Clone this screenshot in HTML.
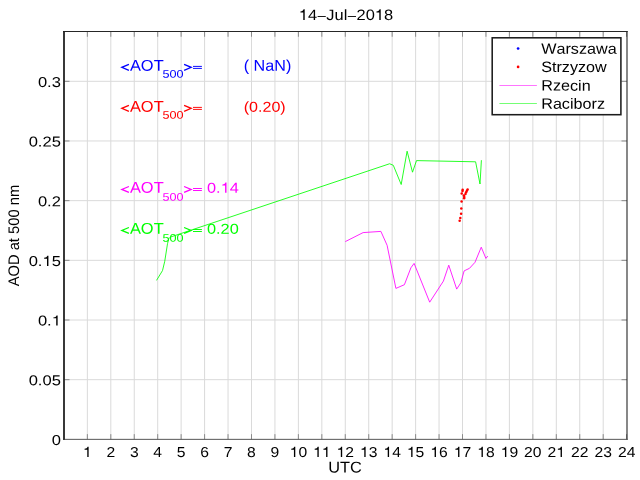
<!DOCTYPE html>
<html><head><meta charset="utf-8"><title>14-Jul-2018</title>
<style>
html,body{margin:0;padding:0;background:#fff;}
body{width:640px;height:480px;overflow:hidden;}
svg{display:block;will-change:transform;}
text{font-family:"Liberation Sans",sans-serif;font-kerning:none;text-rendering:geometricPrecision;}
</style></head><body>
<svg width="640" height="480" viewBox="0 0 640 480">
<rect x="0" y="0" width="640" height="480" fill="#ffffff"/>
<g stroke="#dadada" stroke-width="1" fill="none"><line x1="87.36" y1="31.55" x2="87.36" y2="439.35"/><line x1="110.80" y1="31.55" x2="110.80" y2="439.35"/><line x1="134.25" y1="31.55" x2="134.25" y2="439.35"/><line x1="157.70" y1="31.55" x2="157.70" y2="439.35"/><line x1="181.14" y1="31.55" x2="181.14" y2="439.35"/><line x1="204.59" y1="31.55" x2="204.59" y2="439.35"/><line x1="228.04" y1="31.55" x2="228.04" y2="439.35"/><line x1="251.49" y1="31.55" x2="251.49" y2="439.35"/><line x1="274.93" y1="31.55" x2="274.93" y2="439.35"/><line x1="298.38" y1="31.55" x2="298.38" y2="439.35"/><line x1="321.83" y1="31.55" x2="321.83" y2="439.35"/><line x1="345.27" y1="31.55" x2="345.27" y2="439.35"/><line x1="368.72" y1="31.55" x2="368.72" y2="439.35"/><line x1="392.17" y1="31.55" x2="392.17" y2="439.35"/><line x1="415.62" y1="31.55" x2="415.62" y2="439.35"/><line x1="439.06" y1="31.55" x2="439.06" y2="439.35"/><line x1="462.51" y1="31.55" x2="462.51" y2="439.35"/><line x1="485.96" y1="31.55" x2="485.96" y2="439.35"/><line x1="509.40" y1="31.55" x2="509.40" y2="439.35"/><line x1="532.85" y1="31.55" x2="532.85" y2="439.35"/><line x1="556.30" y1="31.55" x2="556.30" y2="439.35"/><line x1="579.74" y1="31.55" x2="579.74" y2="439.35"/><line x1="603.19" y1="31.55" x2="603.19" y2="439.35"/><line x1="64.0" y1="379.68" x2="627.0" y2="379.68"/><line x1="64.0" y1="320.00" x2="627.0" y2="320.00"/><line x1="64.0" y1="260.33" x2="627.0" y2="260.33"/><line x1="64.0" y1="200.65" x2="627.0" y2="200.65"/><line x1="64.0" y1="140.98" x2="627.0" y2="140.98"/><line x1="64.0" y1="81.30" x2="627.0" y2="81.30"/></g>
<g stroke="#8a8a8a" stroke-width="1" fill="none"><line x1="87.36" y1="439.35" x2="87.36" y2="434.15000000000003"/><line x1="87.36" y1="31.55" x2="87.36" y2="36.75"/><line x1="110.80" y1="439.35" x2="110.80" y2="434.15000000000003"/><line x1="110.80" y1="31.55" x2="110.80" y2="36.75"/><line x1="134.25" y1="439.35" x2="134.25" y2="434.15000000000003"/><line x1="134.25" y1="31.55" x2="134.25" y2="36.75"/><line x1="157.70" y1="439.35" x2="157.70" y2="434.15000000000003"/><line x1="157.70" y1="31.55" x2="157.70" y2="36.75"/><line x1="181.14" y1="439.35" x2="181.14" y2="434.15000000000003"/><line x1="181.14" y1="31.55" x2="181.14" y2="36.75"/><line x1="204.59" y1="439.35" x2="204.59" y2="434.15000000000003"/><line x1="204.59" y1="31.55" x2="204.59" y2="36.75"/><line x1="228.04" y1="439.35" x2="228.04" y2="434.15000000000003"/><line x1="228.04" y1="31.55" x2="228.04" y2="36.75"/><line x1="251.49" y1="439.35" x2="251.49" y2="434.15000000000003"/><line x1="251.49" y1="31.55" x2="251.49" y2="36.75"/><line x1="274.93" y1="439.35" x2="274.93" y2="434.15000000000003"/><line x1="274.93" y1="31.55" x2="274.93" y2="36.75"/><line x1="298.38" y1="439.35" x2="298.38" y2="434.15000000000003"/><line x1="298.38" y1="31.55" x2="298.38" y2="36.75"/><line x1="321.83" y1="439.35" x2="321.83" y2="434.15000000000003"/><line x1="321.83" y1="31.55" x2="321.83" y2="36.75"/><line x1="345.27" y1="439.35" x2="345.27" y2="434.15000000000003"/><line x1="345.27" y1="31.55" x2="345.27" y2="36.75"/><line x1="368.72" y1="439.35" x2="368.72" y2="434.15000000000003"/><line x1="368.72" y1="31.55" x2="368.72" y2="36.75"/><line x1="392.17" y1="439.35" x2="392.17" y2="434.15000000000003"/><line x1="392.17" y1="31.55" x2="392.17" y2="36.75"/><line x1="415.62" y1="439.35" x2="415.62" y2="434.15000000000003"/><line x1="415.62" y1="31.55" x2="415.62" y2="36.75"/><line x1="439.06" y1="439.35" x2="439.06" y2="434.15000000000003"/><line x1="439.06" y1="31.55" x2="439.06" y2="36.75"/><line x1="462.51" y1="439.35" x2="462.51" y2="434.15000000000003"/><line x1="462.51" y1="31.55" x2="462.51" y2="36.75"/><line x1="485.96" y1="439.35" x2="485.96" y2="434.15000000000003"/><line x1="485.96" y1="31.55" x2="485.96" y2="36.75"/><line x1="509.40" y1="439.35" x2="509.40" y2="434.15000000000003"/><line x1="509.40" y1="31.55" x2="509.40" y2="36.75"/><line x1="532.85" y1="439.35" x2="532.85" y2="434.15000000000003"/><line x1="532.85" y1="31.55" x2="532.85" y2="36.75"/><line x1="556.30" y1="439.35" x2="556.30" y2="434.15000000000003"/><line x1="556.30" y1="31.55" x2="556.30" y2="36.75"/><line x1="579.74" y1="439.35" x2="579.74" y2="434.15000000000003"/><line x1="579.74" y1="31.55" x2="579.74" y2="36.75"/><line x1="603.19" y1="439.35" x2="603.19" y2="434.15000000000003"/><line x1="603.19" y1="31.55" x2="603.19" y2="36.75"/><line x1="626.64" y1="439.35" x2="626.64" y2="434.15000000000003"/><line x1="626.64" y1="31.55" x2="626.64" y2="36.75"/><line x1="64.0" y1="379.68" x2="69.5" y2="379.68"/><line x1="627.0" y1="379.68" x2="621.5" y2="379.68"/><line x1="64.0" y1="320.00" x2="69.5" y2="320.00"/><line x1="627.0" y1="320.00" x2="621.5" y2="320.00"/><line x1="64.0" y1="260.33" x2="69.5" y2="260.33"/><line x1="627.0" y1="260.33" x2="621.5" y2="260.33"/><line x1="64.0" y1="200.65" x2="69.5" y2="200.65"/><line x1="627.0" y1="200.65" x2="621.5" y2="200.65"/><line x1="64.0" y1="140.98" x2="69.5" y2="140.98"/><line x1="627.0" y1="140.98" x2="621.5" y2="140.98"/><line x1="64.0" y1="81.30" x2="69.5" y2="81.30"/><line x1="627.0" y1="81.30" x2="621.5" y2="81.30"/></g>
<polyline fill="none" stroke="#00ff00" stroke-width="0.85" stroke-linejoin="miter" stroke-miterlimit="10" points="156.50,280.40 162.50,270.60 164.75,261.25 167.50,243.75 168.75,238.75 170.50,237.00 389.60,163.75 393.30,165.30 401.20,184.50 407.10,151.20 412.50,172.20 416.50,160.60 475.60,161.80 480.00,184.00 481.40,160.20"/>
<polyline fill="none" stroke="#ff00ff" stroke-width="0.85" stroke-linejoin="miter" stroke-miterlimit="10" points="345.30,241.60 363.10,232.60 380.90,231.40 387.10,245.30 395.90,288.40 404.40,284.70 410.90,267.80 414.10,263.40 429.70,302.20 443.40,281.10 448.75,265.20 456.70,289.10 460.90,282.70 464.10,270.90 469.50,268.30 475.00,262.30 481.25,247.20 485.90,258.40 487.80,256.10"/>
<g fill="#ff0000"><circle cx="459.65" cy="220.80" r="1.25"/><circle cx="460.30" cy="218.00" r="1.25"/><circle cx="461.10" cy="213.70" r="1.25"/><circle cx="461.30" cy="208.40" r="1.25"/><circle cx="461.60" cy="201.60" r="1.25"/><circle cx="464.10" cy="198.30" r="1.25"/><circle cx="464.25" cy="196.90" r="1.25"/><circle cx="463.90" cy="195.50" r="1.25"/><circle cx="465.50" cy="194.10" r="1.25"/><circle cx="466.10" cy="192.20" r="1.25"/><circle cx="466.90" cy="190.80" r="1.25"/><circle cx="467.60" cy="189.40" r="1.25"/><circle cx="462.65" cy="189.80" r="1.25"/><circle cx="462.50" cy="191.00" r="1.25"/><circle cx="461.70" cy="193.60" r="1.25"/></g>
<line x1="627.0" y1="31.55" x2="627.0" y2="439.85" stroke="#2a2a2a" stroke-width="1.12"/>
<line x1="63.0" y1="439.35" x2="627.8" y2="439.35" stroke="#565656" stroke-width="1"/>
<line x1="63.0" y1="31.55" x2="627.8" y2="31.55" stroke="#262626" stroke-width="1.1"/>
<line x1="64.0" y1="30.95" x2="64.0" y2="439.85" stroke="#222" stroke-width="1.8"/>
<path d="M273 0H359V-709H292C272 -628 215 -574 101 -565V-503H273Z" fill="#000" transform="translate(298.78,20.00) scale(0.01647,0.01500)"/><text transform="translate(307.94,20.00) matrix(1.0980,0.001,0,1.0000,0,0)" font-size="15.0" fill="#000">4</text><rect x="317.60" y="16.07" width="8.17" height="0.90" fill="#000"/><text transform="translate(326.26,20.00) matrix(1.0980,0.001,0,1.0000,0,0)" font-size="15.0" fill="#000">Jul</text><rect x="347.81" y="16.07" width="8.17" height="0.90" fill="#000"/><text transform="translate(356.48,20.00) matrix(1.0980,0.001,0,1.0000,0,0)" font-size="15.0" fill="#000">20</text><path d="M273 0H359V-709H292C272 -628 215 -574 101 -565V-503H273Z" fill="#000" transform="translate(374.80,20.00) scale(0.01647,0.01500)"/><text transform="translate(383.96,20.00) matrix(1.0980,0.001,0,1.0000,0,0)" font-size="15.0" fill="#000">8</text>
<path d="M273 0H359V-709H292C272 -628 215 -574 101 -565V-503H273Z" fill="#000" transform="translate(82.99,456.90) scale(0.01570,0.01440)"/>
<text transform="translate(106.44,456.90) matrix(1.0900,0.001,0,1.0000,0,0)" font-size="14.4" fill="#000">2</text>
<text transform="translate(129.89,456.90) matrix(1.0900,0.001,0,1.0000,0,0)" font-size="14.4" fill="#000">3</text>
<text transform="translate(153.33,456.90) matrix(1.0900,0.001,0,1.0000,0,0)" font-size="14.4" fill="#000">4</text>
<text transform="translate(176.78,456.90) matrix(1.0900,0.001,0,1.0000,0,0)" font-size="14.4" fill="#000">5</text>
<text transform="translate(200.23,456.90) matrix(1.0900,0.001,0,1.0000,0,0)" font-size="14.4" fill="#000">6</text>
<text transform="translate(223.67,456.90) matrix(1.0900,0.001,0,1.0000,0,0)" font-size="14.4" fill="#000">7</text>
<text transform="translate(247.12,456.90) matrix(1.0900,0.001,0,1.0000,0,0)" font-size="14.4" fill="#000">8</text>
<text transform="translate(270.57,456.90) matrix(1.0900,0.001,0,1.0000,0,0)" font-size="14.4" fill="#000">9</text>
<path d="M273 0H359V-709H292C272 -628 215 -574 101 -565V-503H273Z" fill="#000" transform="translate(289.65,456.90) scale(0.01570,0.01440)"/><text transform="translate(298.38,456.90) matrix(1.0900,0.001,0,1.0000,0,0)" font-size="14.4" fill="#000">0</text>
<path d="M273 0H359V-709H292C272 -628 215 -574 101 -565V-503H273Z" fill="#000" transform="translate(313.10,456.90) scale(0.01570,0.01440)"/><path d="M273 0H359V-709H292C272 -628 215 -574 101 -565V-503H273Z" fill="#000" transform="translate(321.83,456.90) scale(0.01570,0.01440)"/>
<path d="M273 0H359V-709H292C272 -628 215 -574 101 -565V-503H273Z" fill="#000" transform="translate(336.54,456.90) scale(0.01570,0.01440)"/><text transform="translate(345.27,456.90) matrix(1.0900,0.001,0,1.0000,0,0)" font-size="14.4" fill="#000">2</text>
<path d="M273 0H359V-709H292C272 -628 215 -574 101 -565V-503H273Z" fill="#000" transform="translate(359.99,456.90) scale(0.01570,0.01440)"/><text transform="translate(368.72,456.90) matrix(1.0900,0.001,0,1.0000,0,0)" font-size="14.4" fill="#000">3</text>
<path d="M273 0H359V-709H292C272 -628 215 -574 101 -565V-503H273Z" fill="#000" transform="translate(383.44,456.90) scale(0.01570,0.01440)"/><text transform="translate(392.17,456.90) matrix(1.0900,0.001,0,1.0000,0,0)" font-size="14.4" fill="#000">4</text>
<path d="M273 0H359V-709H292C272 -628 215 -574 101 -565V-503H273Z" fill="#000" transform="translate(406.89,456.90) scale(0.01570,0.01440)"/><text transform="translate(415.62,456.90) matrix(1.0900,0.001,0,1.0000,0,0)" font-size="14.4" fill="#000">5</text>
<path d="M273 0H359V-709H292C272 -628 215 -574 101 -565V-503H273Z" fill="#000" transform="translate(430.33,456.90) scale(0.01570,0.01440)"/><text transform="translate(439.06,456.90) matrix(1.0900,0.001,0,1.0000,0,0)" font-size="14.4" fill="#000">6</text>
<path d="M273 0H359V-709H292C272 -628 215 -574 101 -565V-503H273Z" fill="#000" transform="translate(453.78,456.90) scale(0.01570,0.01440)"/><text transform="translate(462.51,456.90) matrix(1.0900,0.001,0,1.0000,0,0)" font-size="14.4" fill="#000">7</text>
<path d="M273 0H359V-709H292C272 -628 215 -574 101 -565V-503H273Z" fill="#000" transform="translate(477.23,456.90) scale(0.01570,0.01440)"/><text transform="translate(485.96,456.90) matrix(1.0900,0.001,0,1.0000,0,0)" font-size="14.4" fill="#000">8</text>
<path d="M273 0H359V-709H292C272 -628 215 -574 101 -565V-503H273Z" fill="#000" transform="translate(500.67,456.90) scale(0.01570,0.01440)"/><text transform="translate(509.40,456.90) matrix(1.0900,0.001,0,1.0000,0,0)" font-size="14.4" fill="#000">9</text>
<text transform="translate(524.12,456.90) matrix(1.0900,0.001,0,1.0000,0,0)" font-size="14.4" fill="#000">20</text>
<text transform="translate(547.57,456.90) matrix(1.0900,0.001,0,1.0000,0,0)" font-size="14.4" fill="#000">2</text><path d="M273 0H359V-709H292C272 -628 215 -574 101 -565V-503H273Z" fill="#000" transform="translate(556.30,456.90) scale(0.01570,0.01440)"/>
<text transform="translate(571.01,456.90) matrix(1.0900,0.001,0,1.0000,0,0)" font-size="14.4" fill="#000">22</text>
<text transform="translate(594.46,456.90) matrix(1.0900,0.001,0,1.0000,0,0)" font-size="14.4" fill="#000">23</text>
<text transform="translate(617.91,456.90) matrix(1.0900,0.001,0,1.0000,0,0)" font-size="14.4" fill="#000">24</text>
<text transform="translate(328.20,472.50) matrix(1.0900,0.001,0,1.0370,0,0)" font-size="15.0" fill="#000">UTC</text>
<text transform="translate(51.69,444.95) matrix(1.1500,0.001,0,1.0000,0,0)" font-size="14.4" fill="#000">0</text>
<text transform="translate(28.67,385.28) matrix(1.1500,0.001,0,1.0000,0,0)" font-size="14.4" fill="#000">0.05</text>
<text transform="translate(37.88,325.60) matrix(1.1500,0.001,0,1.0000,0,0)" font-size="14.4" fill="#000">0.</text><path d="M273 0H359V-709H292C272 -628 215 -574 101 -565V-503H273Z" fill="#000" transform="translate(51.69,325.60) scale(0.01656,0.01440)"/>
<text transform="translate(28.67,265.93) matrix(1.1500,0.001,0,1.0000,0,0)" font-size="14.4" fill="#000">0.</text><path d="M273 0H359V-709H292C272 -628 215 -574 101 -565V-503H273Z" fill="#000" transform="translate(42.48,265.93) scale(0.01656,0.01440)"/><text transform="translate(51.69,265.93) matrix(1.1500,0.001,0,1.0000,0,0)" font-size="14.4" fill="#000">5</text>
<text transform="translate(37.88,206.25) matrix(1.1500,0.001,0,1.0000,0,0)" font-size="14.4" fill="#000">0.2</text>
<text transform="translate(28.67,146.58) matrix(1.1500,0.001,0,1.0000,0,0)" font-size="14.4" fill="#000">0.25</text>
<text transform="translate(37.88,86.90) matrix(1.1500,0.001,0,1.0000,0,0)" font-size="14.4" fill="#000">0.3</text>
<text transform="translate(19.2,235.6) rotate(-90.02) scale(1.003,1.04)" font-size="14.7" text-anchor="middle" fill="#000">AOD at 500 nm</text>
<g stroke="#0000ff" stroke-width="1.25" fill="none" stroke-linejoin="miter"><polyline points="128.90,64.40 121.80,67.35 128.90,70.30"/><polyline points="184.10,64.40 191.20,67.35 184.10,70.30"/></g><g stroke="#0000ff" stroke-width="0.95" fill="none"><line x1="193.00" y1="66.40" x2="201.90" y2="66.40"/><line x1="193.00" y1="68.40" x2="201.90" y2="68.40"/></g>
<text transform="translate(129.90,70.70) matrix(1.0950,0.001,0,1.0370,0,0)" font-size="15.0" fill="#0000ff">AOT</text>
<text transform="translate(162.50,77.70) matrix(1.1400,0.001,0,1.0000,0,0)" font-size="11.09" fill="#0000ff">500</text>
<text transform="translate(243.70,70.70) matrix(1.0770,0.001,0,1.0370,0,0)" font-size="15.0" fill="#0000ff">( NaN)</text>
<g stroke="#ff0000" stroke-width="1.25" fill="none" stroke-linejoin="miter"><polyline points="128.90,105.40 121.80,108.35 128.90,111.30"/><polyline points="184.10,105.40 191.20,108.35 184.10,111.30"/></g><g stroke="#ff0000" stroke-width="0.95" fill="none"><line x1="193.00" y1="107.40" x2="201.90" y2="107.40"/><line x1="193.00" y1="109.40" x2="201.90" y2="109.40"/></g>
<text transform="translate(129.90,111.70) matrix(1.0950,0.001,0,1.0370,0,0)" font-size="15.0" fill="#ff0000">AOT</text>
<text transform="translate(162.50,118.70) matrix(1.1400,0.001,0,1.0000,0,0)" font-size="11.09" fill="#ff0000">500</text>
<text transform="translate(243.70,111.70) matrix(1.1180,0.001,0,1.0000,0,0)" font-size="14.4" fill="#ff0000">(0.20)</text>
<g stroke="#ff00ff" stroke-width="1.25" fill="none" stroke-linejoin="miter"><polyline points="128.90,186.50 121.80,189.45 128.90,192.40"/><polyline points="184.10,186.50 191.20,189.45 184.10,192.40"/></g><g stroke="#ff00ff" stroke-width="0.95" fill="none"><line x1="193.00" y1="188.50" x2="201.90" y2="188.50"/><line x1="193.00" y1="190.50" x2="201.90" y2="190.50"/></g>
<text transform="translate(129.90,192.80) matrix(1.0950,0.001,0,1.0370,0,0)" font-size="15.0" fill="#ff00ff">AOT</text>
<text transform="translate(162.50,200.70) matrix(1.1400,0.001,0,1.0000,0,0)" font-size="11.09" fill="#ff00ff">500</text>
<text transform="translate(207.00,192.80) matrix(1.1350,0.001,0,1.0000,0,0)" font-size="14.4" fill="#ff00ff">0.</text><path d="M273 0H359V-709H292C272 -628 215 -574 101 -565V-503H273Z" fill="#ff00ff" transform="translate(220.63,192.80) scale(0.01634,0.01440)"/><text transform="translate(229.72,192.80) matrix(1.1350,0.001,0,1.0000,0,0)" font-size="14.4" fill="#ff00ff">4</text>
<g stroke="#00ff00" stroke-width="1.25" fill="none" stroke-linejoin="miter"><polyline points="128.90,227.50 121.80,230.45 128.90,233.40"/><polyline points="184.10,227.50 191.20,230.45 184.10,233.40"/></g><g stroke="#00ff00" stroke-width="0.95" fill="none"><line x1="193.00" y1="229.50" x2="201.90" y2="229.50"/><line x1="193.00" y1="231.50" x2="201.90" y2="231.50"/></g>
<text transform="translate(129.90,233.80) matrix(1.0950,0.001,0,1.0370,0,0)" font-size="15.0" fill="#00ff00">AOT</text>
<text transform="translate(162.50,241.70) matrix(1.1400,0.001,0,1.0000,0,0)" font-size="11.09" fill="#00ff00">500</text>
<text transform="translate(207.00,233.80) matrix(1.1350,0.001,0,1.0000,0,0)" font-size="14.4" fill="#00ff00">0.20</text>
<rect x="492.2" y="37.8" width="128.7" height="76.9" fill="#fff" stroke="#1c1c1c" stroke-width="1.55"/>
<circle cx="518.1" cy="48.5" r="1.35" fill="#0000ff"/><circle cx="518.1" cy="66.9" r="1.35" fill="#ff0000"/>
<line x1="499.4" y1="85.5" x2="536.9" y2="85.5" stroke="#ff00ff" stroke-width="0.55"/>
<line x1="499.4" y1="103.5" x2="536.9" y2="103.5" stroke="#00ff00" stroke-width="0.55"/>
<text transform="translate(541.20,53.70) matrix(1.0780,0.001,0,1.0000,0,0)" font-size="15.0" fill="#000">Warszawa</text>
<text transform="translate(541.20,72.00) matrix(1.0780,0.001,0,1.0000,0,0)" font-size="15.0" fill="#000">Strzyzow</text>
<text transform="translate(541.20,90.60) matrix(1.0780,0.001,0,1.0000,0,0)" font-size="15.0" fill="#000">Rzecin</text>
<text transform="translate(541.20,108.80) matrix(1.0780,0.001,0,1.0000,0,0)" font-size="15.0" fill="#000">Raciborz</text>
</svg>
</body></html>
